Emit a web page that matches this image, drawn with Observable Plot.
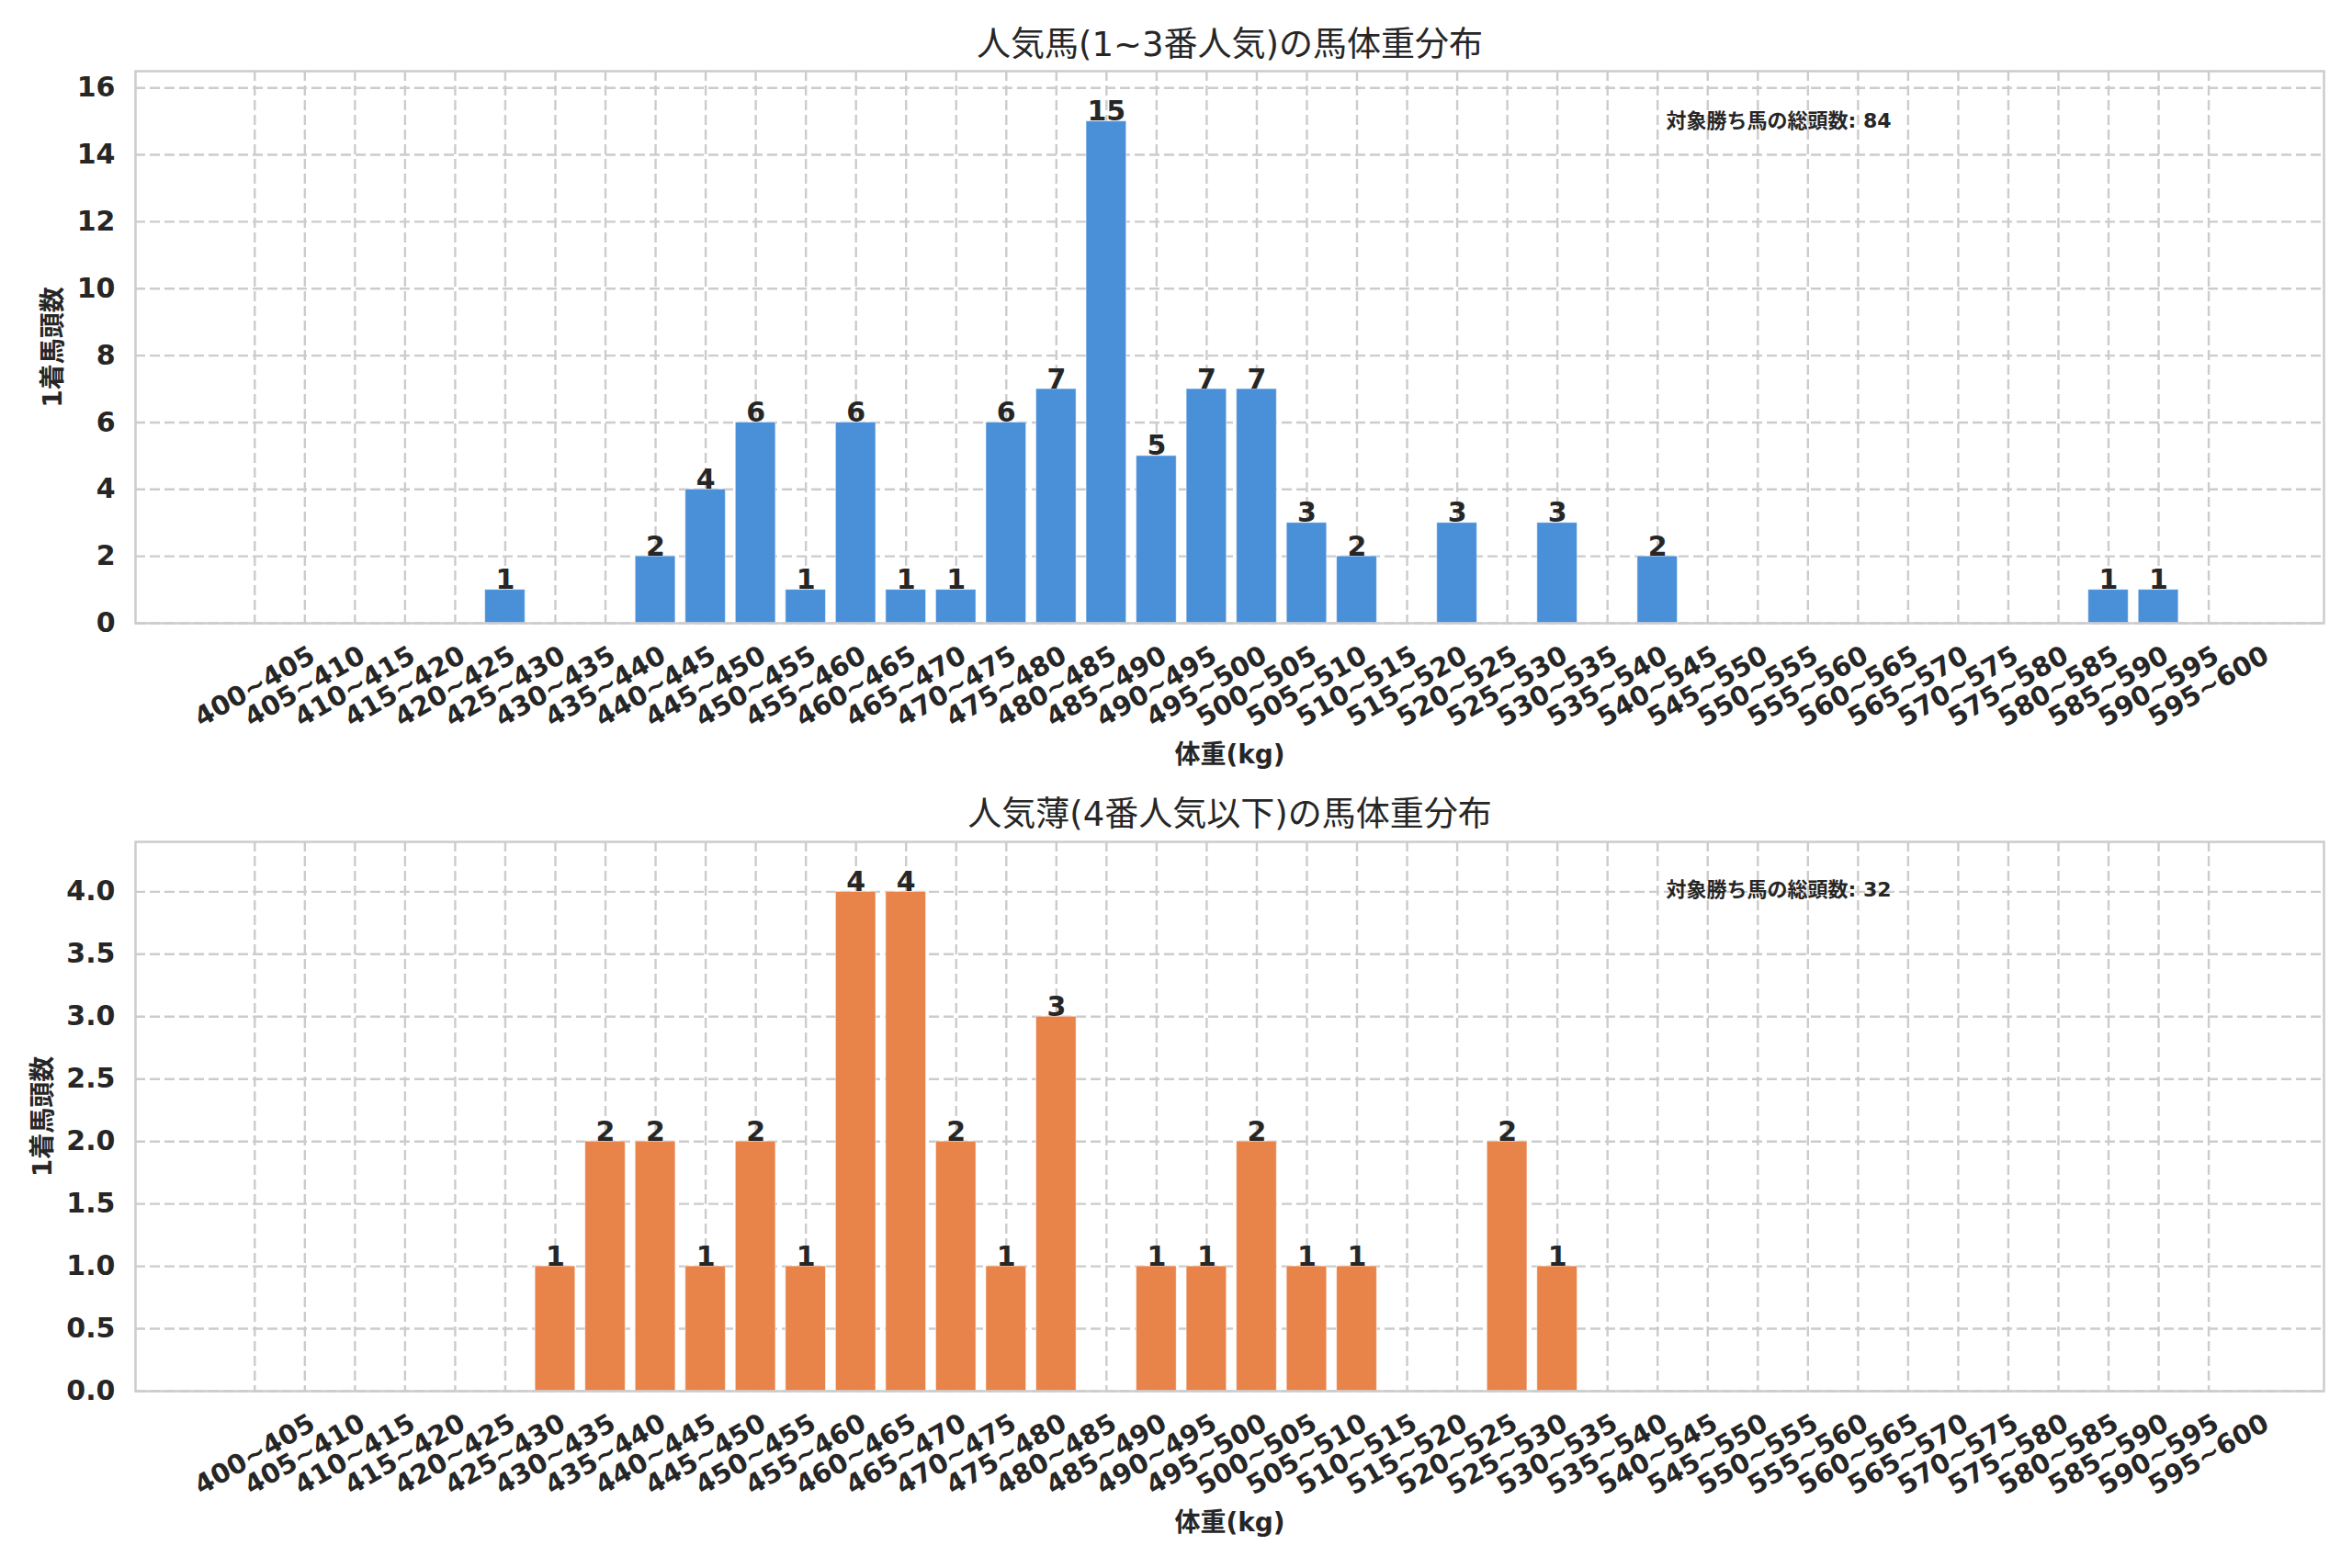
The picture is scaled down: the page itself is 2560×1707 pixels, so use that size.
<!DOCTYPE html>
<html>
<head>
<meta charset="utf-8">
<script src="https://cdn.jsdelivr.net/npm/d3@7"></script>
<script src="https://cdn.jsdelivr.net/npm/@observablehq/plot@0.6"></script>
<style>
  html, body { margin: 0; padding: 0; background: #ffffff; }
  #chart { width: 2560px; height: 1707px; }
  #chart svg { display: block; overflow: visible; }
</style>
</head>
<body>
<div id="chart"></div>
<script>
// ---- data ----
const categories = ["400~405","405~410","410~415","415~420","420~425","425~430","430~435","435~440","440~445","445~450",
  "450~455","455~460","460~465","465~470","470~475","475~480","480~485","485~490","490~495","495~500",
  "500~505","505~510","510~515","515~520","520~525","525~530","530~535","535~540","540~545","545~550",
  "550~555","555~560","560~565","565~570","570~575","575~580","580~585","585~590","590~595","595~600"];
const topCounts = [0,0,0,0,0,1,0,0,2,4, 6,1,6,1,1,6,7,15,5,7, 7,3,2,0,3,0,3,0,2,0, 0,0,0,0,0,0,0,1,1,0];
const bottomCounts = [0,0,0,0,0,0,1,2,2,1, 2,1,4,4,2,1,3,0,1,1, 2,1,1,0,0,2,1,0,0,0, 0,0,0,0,0,0,0,0,0,0];
const topTitle = "人気馬(1~3番人気)の馬体重分布";
const bottomTitle = "人気薄(4番人気以下)の馬体重分布";
const topTotalLabel = "対象勝ち馬の総頭数: 84";
const bottomTotalLabel = "対象勝ち馬の総頭数: 32";
const xLabel = "体重(kg)";
const yLabel = "1着馬頭数";
const topYTicks = [0,2,4,6,8,10,12,14,16];
const bottomYTicks = [0,0.5,1,1.5,2,2.5,3,3.5,4];
const topColor = "#4a90d9";
const bottomColor = "#e8834a";

const FONT = "'DejaVu Sans', 'Noto Sans CJK JP', sans-serif";
const TXT = "#262626";
const GRID = "#cccccc";

function panel({counts, color, title, total, yMax, yTicks, yFmt, height, marginTop, marginBottom, titleDy, yLabelDx, totalDy}) {
  const idx = categories.map((c, i) => i);
  const bars = counts.map((v, i) => ({i, v, c: categories[i]})).filter(d => d.v > 0);
  return Plot.plot({
    width: 2560,
    height,
    marginLeft: 147,
    marginRight: 31,
    marginTop,
    marginBottom,
    style: {fontFamily: FONT, color: TXT, background: "#ffffff", overflow: "visible"},
    x: {type: "linear", domain: [-2.38, 41.3], axis: null},
    y: {type: "linear", domain: [0, yMax], axis: null},
    marks: [
      Plot.gridX(idx, {x: d => d, stroke: GRID, strokeOpacity: 1, strokeWidth: 2.4, strokeDasharray: "11,5"}),
      Plot.gridY(yTicks, {y: d => d, stroke: GRID, strokeOpacity: 1, strokeWidth: 2.4, strokeDasharray: "11,5"}),
      Plot.rectY(bars, {x1: d => d.i - 0.4, x2: d => d.i + 0.4, y: "v", fill: color, stroke: "#ffffff", strokeOpacity: 0.5, strokeWidth: 1}),
      Plot.text(bars, {x: "i", y: "v", text: d => String(d.v), lineAnchor: "bottom", dy: -1, fontSize: 30, fontWeight: "bold", fill: TXT}),
      Plot.frame({stroke: GRID, strokeWidth: 2.5}),
      // y tick labels
      Plot.text(yTicks, {y: d => d, frameAnchor: "left", text: d => yFmt(d), textAnchor: "end", dx: -22, fontSize: 30, fontWeight: "bold", fill: TXT}),
      // x tick labels (centered, rotated 30°)
      Plot.text(idx, {x: d => d, frameAnchor: "bottom", text: d => categories[d], rotate: -30, textAnchor: "middle", lineAnchor: "middle", dy: 69, fontSize: 29, fontWeight: "bold", fill: TXT}),
      // x axis label
      Plot.text([xLabel], {frameAnchor: "bottom", text: d => d, dy: 144, lineAnchor: "middle", fontSize: 28, fontWeight: "bold", fill: TXT}),
      // y axis label
      Plot.text([yLabel], {frameAnchor: "left", text: d => d, rotate: -90, dx: yLabelDx, lineAnchor: "middle", textAnchor: "middle", fontSize: 28, fontWeight: "bold", fill: TXT}),
      // title
      Plot.text([title], {frameAnchor: "top", text: d => d, dy: titleDy, lineAnchor: "middle", fontSize: 37, fill: TXT}),
      // total annotation
      Plot.text([total], {frameAnchor: "top-left", text: d => d, dx: 1666, dy: totalDy, textAnchor: "start", lineAnchor: "middle", fontSize: 22, fontWeight: "bold", fill: TXT})
    ]
  });
}

const chart = document.getElementById("chart");
chart.appendChild(panel({
  counts: topCounts, color: topColor, title: topTitle, total: topTotalLabel,
  yMax: 16.5, yTicks: topYTicks, yFmt: d3.format("d"),
  height: 853, marginTop: 77, marginBottom: 175, titleDy: -28, yLabelDx: -89, totalDy: 54
}));
chart.appendChild(panel({
  counts: bottomCounts, color: bottomColor, title: bottomTitle, total: bottomTotalLabel,
  yMax: 4.4, yTicks: bottomYTicks, yFmt: d3.format(".1f"),
  height: 854, marginTop: 63, marginBottom: 193, titleDy: -29, yLabelDx: -100, totalDy: 52
}));
</script>
</body>
</html>
